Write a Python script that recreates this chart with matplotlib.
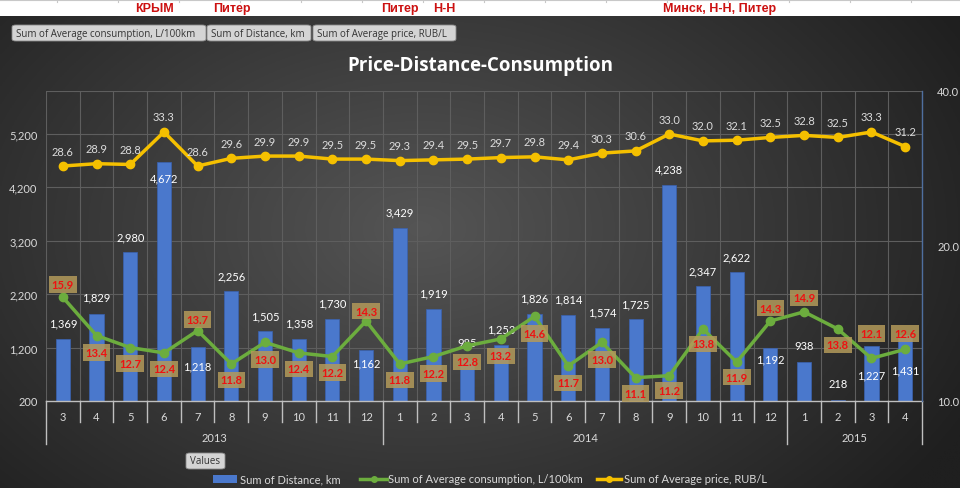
import numpy as np
import matplotlib
matplotlib.use("Agg")
import matplotlib.pyplot as plt
from matplotlib.patches import FancyBboxPatch, Rectangle
from matplotlib.lines import Line2D
import matplotlib.transforms as mtransforms
from matplotlib.ticker import FixedLocator, NullLocator, FuncFormatter

plt.rcParams['font.family'] = ['Lato', 'DejaVu Sans']

# ---------------- data ----------------
years = ["2013", "2014", "2015"]
months = [3, 4, 5, 6, 7, 8, 9, 10, 11, 12,
          1, 2, 3, 4, 5, 6, 7, 8, 9, 10, 11, 12,
          1, 2, 3, 4]
year_counts = [10, 12, 4]
distance = [1369, 1829, 2980, 4672, 1218, 2256, 1505, 1358, 1730, 1162,
            3429, 1919, 985, 1253, 1826, 1814, 1574, 1725, 4238, 2347, 2622, 1192,
            938, 218, 1227, 1431]
consumption = [15.9, 13.4, 12.7, 12.4, 13.7, 11.8, 13.0, 12.4, 12.2, 14.3,
               11.8, 12.2, 12.8, 13.2, 14.6, 11.7, 13.0, 11.1, 11.2, 13.8, 11.9, 14.3,
               14.9, 13.8, 12.1, 12.6]
price = [28.6, 28.9, 28.8, 33.3, 28.6, 29.6, 29.9, 29.9, 29.5, 29.5,
         29.3, 29.4, 29.5, 29.7, 29.8, 29.4, 30.3, 30.6, 33.0, 32.0, 32.1, 32.5,
         32.8, 32.5, 33.3, 31.2]
left_ticks = [200, 1200, 2200, 3200, 4200, 5200]
right_ticks = [10, 20, 40]

# label placement (pixel offsets relative to the mark, + is up)
dist_label_off = [16, 17, 15, -16, -19, 15, 15, 16, 16, -13,
                  16, 16, 17, 16, 16, 16, 16, 16, 16, 15, 15, -11,
                  16, 17, -29, -35]
cons_label_off = [13, -17, -16, -16, 11, -16, -17, -16, -16, 10,
                  -16, -17, -16, -17, -17, -17, -17, -16, -15, -15, -15, 13,
                  14, -16, 25, 16]
price_label_off = 15

W, H = 960, 489
fig = plt.figure(figsize=(W / 100, H / 100), dpi=100)
fig.patch.set_facecolor('white')

def fx(x):
    return x / W

def fy(y):
    return 1 - y / H

# ---------------- background gradient ----------------
bg = fig.add_axes([0, 0, 1, fy(17)])
bg.set_axis_off()
gx, gy = np.meshgrid(np.linspace(0, W, 400), np.linspace(17, H, 200))
r = np.sqrt(((gx - 420) / 620) ** 2 + ((gy - 230) / 420) ** 2)
r = np.clip(r, 0, 1)
inner = np.array([0x55, 0x55, 0x55]) / 255
outer = np.array([0x1f, 0x1f, 0x1f]) / 255
img = inner[None, None, :] * (1 - r[..., None]) + outer[None, None, :] * r[..., None]
bg.imshow(img, extent=[0, W, H, 17], aspect='auto', origin='upper')
bg.set_xlim(0, W)
bg.set_ylim(H, 17)

# spreadsheet cell lines in top strip
fig.add_artist(Line2D([0, 1], [fy(1), fy(1)], color='#c8c8c8', lw=0.8, transform=fig.transFigure))
for xv in range(57, W, 61):
    fig.add_artist(Line2D([fx(xv), fx(xv)], [fy(0), fy(3)], color='#c8c8c8', lw=0.8,
                          transform=fig.transFigure))

# red annotations on top strip
red_notes = [("КРЫМ", 155), ("Питер", 232), ("Питер", 400), ("Н-Н", 444), ("Минск, Н-Н, Питер", 720)]
for txt, xp in red_notes:
    fig.text(fx(xp), fy(9), txt, color='#cc1111', fontsize=9, fontweight='bold',
             family=['Liberation Sans', 'DejaVu Sans'], ha='center', va='center')

# field buttons
def button(x0, x1, y0, y1, label, fs=7):
    p = FancyBboxPatch((fx(x0), fy(y1)), fx(x1) - fx(x0), fy(y0) - fy(y1),
                       boxstyle="round,pad=0,rounding_size=0.004",
                       transform=fig.transFigure, facecolor='#d4d4d4',
                       edgecolor='#8a8a8a', lw=0.6)
    fig.add_artist(p)
    fig.text(fx(x0 + 4), fy((y0 + y1) / 2), label, fontsize=fs, color='#333333',
             ha='left', va='center', family=['Open Sans', 'DejaVu Sans'])

button(12, 206, 26, 42, "Sum of Average consumption, L/100km")
button(207, 311, 26, 42, "Sum of Distance, km")
button(313, 456, 26, 42, "Sum of Average price, RUB/L")
button(186, 225, 454, 470, "Values")

# title
fig.text(fx(480), fy(66), "Price-Distance-Consumption", color='white', fontsize=13.5,
         fontweight='bold', ha='center', va='center', family=['Open Sans', 'DejaVu Sans'])

# ---------------- main axes ----------------
ax = fig.add_axes([fx(46), fy(402), fx(922) - fx(46), fy(92) - fy(402)])
ax.patch.set_alpha(0)
n = len(distance)
xs = np.arange(n)
ax.set_xlim(-0.5, n - 0.5)
ax.set_ylim(200, 6000)

grid_c = '#5e5e5e'
for t in left_ticks[1:]:
    ax.axhline(t, color=grid_c, lw=0.8, zorder=0)
ax.axhline(6000, color=grid_c, lw=0.8, zorder=0)
for k in range(n + 1):
    ax.axvline(k - 0.5, color=grid_c, lw=0.8, zorder=0)

ax.bar(xs, np.array(distance) - 200, bottom=200, width=0.42, color='#4a78cc',
       edgecolor='#3a62b0', lw=0.5, zorder=2)

for s in ['top', 'left', 'right']:
    ax.spines[s].set_visible(False)
ax.spines['bottom'].set_color('#bfbfbf')
ax.spines['bottom'].set_linewidth(1.0)

ax.yaxis.set_major_locator(FixedLocator(left_ticks))
ax.yaxis.set_major_formatter(FuncFormatter(lambda v, p: f"{int(v):,}"))
ax.tick_params(axis='y', length=0, pad=6, labelsize=8, labelcolor='#d9d9d9')
ax.set_xticks(xs)
ax.set_xticklabels([str(m) for m in months])
ax.tick_params(axis='x', length=0, pad=7, labelsize=8, labelcolor='#d9d9d9')

# category separators below the axis
trans = mtransforms.blended_transform_factory(ax.transData, ax.transAxes)
px_ax = 1 / 310.0
year_bounds = np.concatenate([[0], np.cumsum(year_counts)])
for k in range(n + 1):
    is_year = k in year_bounds
    ylow = -43 * px_ax if is_year else -21 * px_ax
    ax.add_artist(Line2D([k - 0.5, k - 0.5], [0, ylow], color='#bfbfbf', lw=1.0,
                         transform=trans, clip_on=False))
for i, yname in enumerate(years):
    xc = (year_bounds[i] + year_bounds[i + 1]) / 2 - 0.5
    ax.text(xc, -36 * px_ax, yname, transform=trans, ha='center', va='center',
            fontsize=8, color='#d9d9d9')

# distance labels
for i, v in enumerate(distance):
    ax.annotate(f"{v:,}", (xs[i], v), xytext=(0, dist_label_off[i] * 0.72),
                textcoords='offset points', ha='center', va='center',
                fontsize=8, color='white', zorder=5)

# ---------------- secondary axis ----------------
ax2 = ax.twinx()
ax2.set_yscale('log', base=2)
ax2.set_ylim(10, 40)
ax2.yaxis.set_major_locator(FixedLocator(right_ticks))
ax2.yaxis.set_minor_locator(NullLocator())
ax2.yaxis.set_major_formatter(FuncFormatter(lambda v, p: f"{v:.1f}"))
ax2.tick_params(axis='y', length=0, pad=11, labelsize=8, labelcolor='#d9d9d9')
for s in ['top', 'left', 'bottom']:
    ax2.spines[s].set_visible(False)
ax2.spines['right'].set_color('#4f6f9f')
ax2.spines['right'].set_linewidth(1.0)

ax2.plot(xs, consumption, color='#6cad3e', lw=2.5, marker='o', ms=6, zorder=3)
ax2.plot(xs, price, color='#f5c000', lw=2.5, marker='o', ms=6, zorder=3)

for i, v in enumerate(price):
    ax2.annotate(f"{v:.1f}", (xs[i], v), xytext=(0, price_label_off * 0.72),
                 textcoords='offset points', ha='center', va='center',
                 fontsize=8, color='#dcdcdc', zorder=5)
for i, v in enumerate(consumption):
    ax2.annotate(f"{v:.1f}", (xs[i], v), xytext=(0, cons_label_off[i] * 0.72),
                 textcoords='offset points', ha='center', va='center',
                 fontsize=8, color='#ee1111', fontweight='bold', zorder=6,
                 bbox=dict(boxstyle='square,pad=0.25', facecolor='#b39a5a',
                           edgecolor='none', alpha=0.85))

# ---------------- legend ----------------
fig.add_artist(Rectangle((fx(213), fy(484)), fx(237) - fx(213), fy(476) - fy(484),
                         transform=fig.transFigure, facecolor='#4a78cc', edgecolor='none'))
fig.text(fx(240), fy(480), "Sum of Distance, km", fontsize=8, color='#d9d9d9',
         ha='left', va='center')
fig.add_artist(Line2D([fx(360), fx(387)], [fy(480), fy(480)], color='#6cad3e', lw=2.5,
                      transform=fig.transFigure))
fig.add_artist(Line2D([fx(373.5)], [fy(480)], color='#6cad3e', marker='o', ms=4,
                      transform=fig.transFigure))
fig.text(fx(388), fy(480), "Sum of Average consumption, L/100km", fontsize=8,
         color='#d9d9d9', ha='left', va='center')
fig.add_artist(Line2D([fx(597), fx(621)], [fy(480), fy(480)], color='#f5c000', lw=2.5,
                      transform=fig.transFigure))
fig.add_artist(Line2D([fx(609)], [fy(480)], color='#f5c000', marker='o', ms=4,
                      transform=fig.transFigure))
fig.text(fx(624), fy(480), "Sum of Average price, RUB/L", fontsize=8,
         color='#d9d9d9', ha='left', va='center')

fig.savefig("out.png", dpi=100, facecolor=fig.get_facecolor())
